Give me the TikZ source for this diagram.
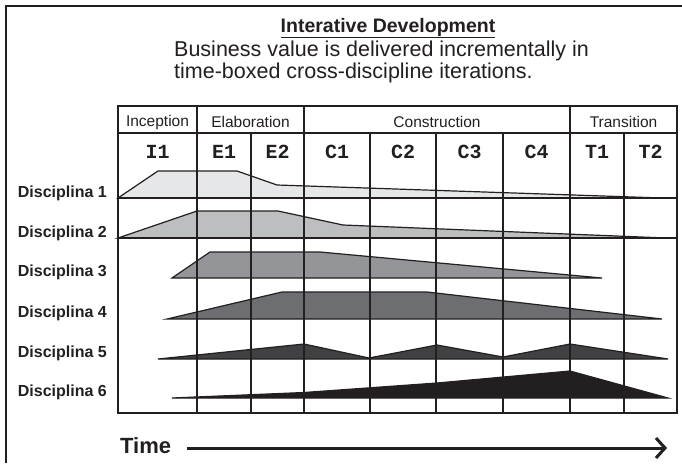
\documentclass[tikz,border=0pt]{standalone}
\usepackage{fontspec}
\setmainfont{Liberation Sans}
\newfontfamily\monofam{Liberation Mono}
\usetikzlibrary{arrows.meta}
\definecolor{ink}{HTML}{231F20}
\definecolor{bandA}{HTML}{E6E7E8}
\definecolor{bandB}{HTML}{BCBEC0}
\definecolor{bandC}{HTML}{939598}
\definecolor{bandD}{HTML}{6D6E71}
\definecolor{bandE}{HTML}{414042}
\definecolor{bandF}{HTML}{231F20}
\begin{document}
\begin{tikzpicture}[x=1pt,y=-1pt,
  gridline/.style={draw=ink, line width=1.3pt},
  band/.style={draw=ink, line width=1.2pt},
  disc/.style={font=\fontsize{16}{18}\selectfont\bfseries, anchor=east, inner sep=0pt, text=ink},
  phase/.style={font=\fontsize{15.5}{18}\selectfont, inner sep=0pt, text=ink},
  iter/.style={font=\monofam\bfseries\fontsize{20}{22}\selectfont, inner sep=0pt, text=ink}]
\useasboundingbox (0,0) rectangle (682,463);
\fill[white] (0,0) rectangle (682,463);
% outer frame (top and left)
\draw[draw=ink, line width=1.8pt] (6,463) -- (6,6) -- (682,6);
% titles
\node[inner sep=0pt, text=ink] (title) at (388,28) {\fontsize{19.5}{22}\selectfont\bfseries\underline{Interative Development}};
\node[anchor=west, inner sep=0pt, text=ink] (sub1) at (174,51) {\fontsize{21.5}{24}\selectfont Business value is delivered incrementally in};
\node[anchor=west, inner sep=0pt, text=ink] (sub2) at (174,73) {\fontsize{21.5}{24}\selectfont time-boxed cross-discipline iterations.};
% bands
\filldraw[band, fill=bandA] (118,198) -- (158,171) -- (237,171) -- (277,185) -- (662,198) -- cycle;
\filldraw[band, fill=bandB] (118,238) -- (197,211) -- (278,211) -- (343,225) -- (666,238) -- cycle;
\filldraw[band, fill=bandC] (172,278) -- (210,252) -- (320,252) -- (602,278) -- cycle;
\filldraw[band, fill=bandD] (167,319) -- (282,292) -- (427,292) -- (662,319) -- cycle;
\filldraw[band, fill=bandE] (158,359) -- (304,344) -- (369,358) -- (437,345) -- (503,357) -- (570,344) -- (668,359) -- cycle;
\filldraw[band, fill=bandF] (172,398) -- (304,392.5) -- (437,383) -- (570,371) -- (668,398) -- cycle;
% grid
\draw[gridline] (118,106) rectangle (677,413);
\draw[gridline] (118,133) -- (677,133);
\draw[gridline] (118,198) -- (677,198);
\draw[gridline] (118,238) -- (677,238);
\foreach \xx in {197,304,570} \draw[gridline] (\xx,106) -- (\xx,413);
\foreach \xx in {251,370,436,503,624} \draw[gridline] (\xx,133) -- (\xx,413);
% phase labels
\node[phase] (ph1) at (157.5,122) {Inception};
\node[phase] (ph2) at (250.5,122) {Elaboration};
\node[phase] (ph3) at (437,122) {Construction};
\node[phase] (ph4) at (623.5,122) {Transition};
% iteration labels
\node[iter] (it1) at (157.5,152) {I1};
\node[iter] (it2) at (224,152) {E1};
\node[iter] (it3) at (277.5,152) {E2};
\node[iter] (it4) at (337,152) {C1};
\node[iter] (it5) at (403,152) {C2};
\node[iter] (it6) at (469.5,152) {C3};
\node[iter] (it7) at (536.5,152) {C4};
\node[iter] (it8) at (597,152) {T1};
\node[iter] (it9) at (650.5,152) {T2};
% discipline labels
\node[disc] (d1) at (107,193) {Disciplina 1};
\node[disc] (d2) at (107,233) {Disciplina 2};
\node[disc] (d3) at (107,272) {Disciplina 3};
\node[disc] (d4) at (107,313) {Disciplina 4};
\node[disc] (d5) at (107,353) {Disciplina 5};
\node[disc] (d6) at (107,392) {Disciplina 6};
% time arrow
\node[anchor=west, inner sep=0pt, text=ink, font=\fontsize{22}{24}\selectfont\bfseries] (time) at (120,446) {Time};
\coordinate (ta) at (187,448);
\coordinate (tb) at (667,448);
\draw[draw=ink, line width=3pt, -{Straight Barb[length=9pt, width=20pt, line width=3pt]}] (ta) -- (tb);
\end{tikzpicture}
\end{document}
